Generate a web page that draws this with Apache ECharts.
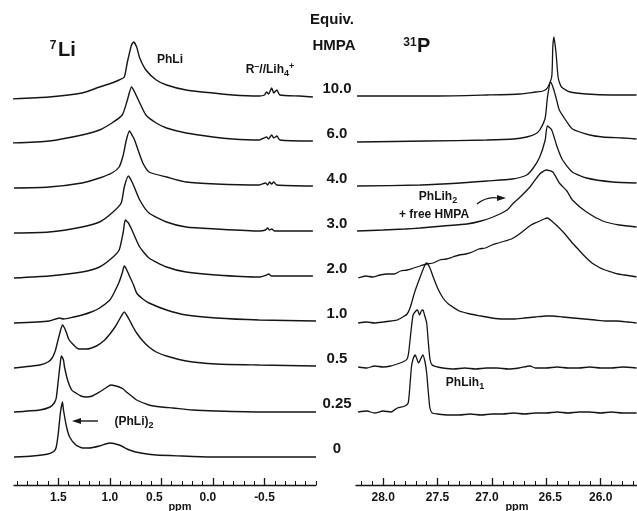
<!DOCTYPE html>
<html>
<head>
<meta charset="utf-8">
<script src="https://cdn.jsdelivr.net/npm/echarts@6/dist/echarts.min.js"></script>
<style>
html,body{margin:0;padding:0;background:#fff}
#c{width:637px;height:511px}
</style>
</head>
<body>
<div id="c"></div>
<script>
// Equivalents of HMPA added, bottom spectrum first
const hmpaEquiv = ['0', '0.25', '0.5', '1.0', '2.0', '3.0', '4.0', '6.0', '10.0'];

// 7Li spectra, [ppm, intensity above the spectrum's own baseline]
const li_0 = [[1.93,0],[1.75,1],[1.60,3],[1.54,6],[1.52,10],[1.50,24],[1.48,44],[1.46,55],[1.45,47],[1.42,30],[1.39,20],[1.33,12],[1.26,9],[1.20,9],[1.10,11],[1.00,14],[0.91,12],[0.81,7],[0.70,4],[0.55,2],[0.30,1],[0.00,0],[-0.50,0],[-1.00,0]];
const li_025 = [[1.93,0],[1.68,2],[1.58,5],[1.54,9],[1.52,14],[1.50,32],[1.48,50],[1.47,56],[1.45,52],[1.44,45],[1.41,32],[1.37,22],[1.33,19],[1.28,16],[1.23,15],[1.17,16],[1.10,20],[1.04,24],[0.99,27],[0.94,26],[0.91,25],[0.87,23],[0.84,20],[0.79,16],[0.74,12],[0.62,7],[0.50,5],[0.39,4],[0.20,2],[-0.03,1],[-0.50,0],[-1.00,0]];
const li_05 = [[1.93,-1],[1.68,2],[1.60,5],[1.56,9],[1.53,16],[1.51,24],[1.48,36],[1.46,42],[1.44,39],[1.42,34],[1.40,28],[1.37,24],[1.30,18],[1.23,18],[1.13,21],[1.05,27],[1.00,33],[0.95,40],[0.91,47],[0.86,55],[0.81,47],[0.78,41],[0.74,34],[0.68,26],[0.62,20],[0.55,15],[0.45,11],[0.26,6],[-0.03,3],[-0.45,2],[-1.00,1]];
const li_10 = [[1.93,-1],[1.59,1],[1.49,4],[1.45,3],[1.35,5],[1.27,7],[1.18,10],[1.10,14],[1.00,22],[0.96,29],[0.91,40],[0.88,49],[0.86,56],[0.84,53],[0.81,46],[0.77,37],[0.74,29],[0.68,23],[0.62,19],[0.45,12],[0.26,7],[-0.03,4],[-0.45,2],[-1.00,1]];
const li_20 = [[1.93,-1],[1.59,1],[1.27,5],[1.10,10],[0.98,19],[0.91,27],[0.87,45],[0.85,57],[0.82,54],[0.79,48],[0.71,30],[0.62,19],[0.45,10],[0.26,5],[-0.03,2],[-0.45,0],[-0.52,2],[-0.54,3],[-0.57,1],[-0.97,1]];
const li_30 = [[1.93,-1],[1.59,0],[1.27,5],[1.10,10],[0.98,19],[0.89,29],[0.86,45],[0.82,56],[0.78,49],[0.71,32],[0.62,19],[0.45,10],[0.26,5],[-0.03,3],[-0.45,1],[-0.51,2],[-0.53,4],[-0.55,2],[-0.57,3],[-0.60,1],[-0.97,1]];
const li_40 = [[1.93,-1],[1.59,0],[1.27,4],[1.10,9],[0.98,14],[0.91,20],[0.87,32],[0.84,47],[0.81,56],[0.78,51],[0.76,47],[0.68,24],[0.62,15],[0.45,10],[0.26,5],[-0.03,3],[-0.45,2],[-0.51,4],[-0.53,2],[-0.55,5],[-0.57,3],[-0.59,5],[-0.62,2],[-0.97,1]];
const li_60 = [[1.96,-1],[1.59,1],[1.27,7],[1.10,12],[0.98,19],[0.88,27],[0.83,42],[0.79,55],[0.76,50],[0.71,39],[0.65,27],[0.55,19],[0.45,14],[0.26,9],[0.00,5],[-0.19,3],[-0.45,2],[-0.52,5],[-0.54,3],[-0.57,7],[-0.59,4],[-0.62,6],[-0.65,2],[-0.97,1]];
const li_100 = [[1.96,-2],[1.59,0],[1.27,4],[1.10,10],[0.98,14],[0.91,17],[0.86,20],[0.83,35],[0.79,52],[0.77,55],[0.74,50],[0.71,39],[0.65,27],[0.55,17],[0.45,12],[0.26,7],[0.00,4],[-0.19,2],[-0.45,1],[-0.50,2],[-0.52,5],[-0.54,3],[-0.57,9],[-0.59,4],[-0.62,7],[-0.65,2],[-0.84,1],[-0.97,0]];

// 31P spectra (no phosphorus signal without HMPA)
const p_025 = [[28.23,0],[28.15,1],[28.08,-1],[28.00,1],[27.93,0],[27.87,4],[27.80,6],[27.77,9],[27.755,25],[27.74,45],[27.725,53],[27.705,57],[27.69,53],[27.675,49],[27.655,53],[27.635,57],[27.615,50],[27.60,39],[27.585,20],[27.57,4],[27.55,-1],[27.50,-2],[27.40,-3],[27.30,-3],[27.20,-2],[27.10,-3],[27.00,-2],[26.90,-2],[26.80,-1],[26.70,-2],[26.60,-1],[26.50,-1],[26.40,0],[26.30,-1],[26.20,0],[26.10,0],[26.00,-1],[25.90,0],[25.80,-1],[25.67,-1]];
const p_05 = [[28.23,0],[28.15,-1],[28.08,1],[28.00,0],[27.93,1],[27.87,3],[27.82,5],[27.78,8],[27.765,15],[27.745,35],[27.725,52],[27.70,56],[27.685,57],[27.665,52],[27.65,56],[27.635,57],[27.62,52],[27.60,44],[27.585,25],[27.57,8],[27.55,2],[27.50,0],[27.45,-1],[27.35,-2],[27.25,-1],[27.15,-2],[27.05,-1],[26.95,-1],[26.85,-2],[26.75,-1],[26.65,1],[26.60,-1],[26.50,-1],[26.40,0],[26.30,-1],[26.20,-1],[26.10,0],[26.00,-1],[25.90,-1],[25.80,0],[25.67,-1]];
const p_10 = [[28.23,-1],[28.15,0],[28.08,-1],[28.00,0],[27.93,1],[27.87,2],[27.82,5],[27.78,8],[27.75,15],[27.71,30],[27.66,45],[27.62,56],[27.60,59],[27.57,54],[27.54,45],[27.50,34],[27.45,24],[27.40,18],[27.36,15],[27.30,11],[27.20,8],[27.10,6],[27.00,4],[26.90,3],[26.80,3],[26.70,4],[26.60,5],[26.50,6],[26.44,6],[26.35,5],[26.25,4],[26.15,3],[26.05,2],[25.95,1],[25.85,1],[25.75,0],[25.67,-1]];
const p_20 = [[28.23,-1],[28.16,1],[28.10,0],[28.03,2],[27.96,3],[27.90,3],[27.84,6],[27.78,7],[27.72,9],[27.66,11],[27.60,13],[27.54,14],[27.48,17],[27.42,18],[27.36,20],[27.30,22],[27.24,23],[27.18,25],[27.12,28],[27.06,29],[27.00,32],[26.94,34],[26.88,36],[26.82,38],[26.76,42],[26.70,47],[26.64,52],[26.58,55],[26.52,58],[26.49,59],[26.44,55],[26.38,49],[26.32,42],[26.26,34],[26.20,27],[26.14,20],[26.08,14],[26.02,10],[25.96,7],[25.90,5],[25.84,3],[25.78,2],[25.72,1],[25.67,0]];
const p_30 = [[28.24,1],[28.00,2],[27.80,3],[27.66,4],[27.45,6],[27.23,8],[27.10,11],[26.99,15],[26.86,22],[26.81,28],[26.74,35],[26.65,45],[26.56,58],[26.50,62],[26.44,60],[26.38,49],[26.31,41],[26.26,32],[26.13,20],[25.98,11],[25.83,7],[25.67,5]];
const p_40 = [[28.24,1],[27.66,2],[27.29,4],[27.05,6],[26.81,8],[26.68,12],[26.62,19],[26.56,30],[26.51,47],[26.49,61],[26.45,57],[26.40,40],[26.35,27],[26.26,15],[26.13,9],[25.89,5],[25.67,4]];
const p_60 = [[28.24,0],[27.60,1],[27.05,2],[26.80,3],[26.68,5],[26.60,8],[26.56,12],[26.51,24],[26.49,44],[26.46,60],[26.43,52],[26.40,40],[26.38,32],[26.31,20],[26.26,13],[26.10,7],[25.98,5],[25.80,4],[25.67,3]];
const p_100 = [[28.24,1],[27.50,1],[27.05,2],[26.74,3],[26.60,5],[26.53,6],[26.49,9],[26.45,20],[26.44,50],[26.43,60],[26.41,44],[26.39,19],[26.36,10],[26.28,5],[26.13,3],[25.90,2],[25.67,2]];

const liSpectra = [li_0, li_025, li_05, li_10, li_20, li_30, li_40, li_60, li_100];
const pSpectra = [null, p_025, p_05, p_10, p_20, p_30, p_40, p_60, p_100];

// Axis tick labels (ppm)
const liTickLabels = [1.5, 1.0, 0.5, 0.0, -0.5];
const pTickLabels = [28.0, 27.5, 27.0, 26.5, 26.0];

// ---- layout ----
const STEP = 45;              // vertical spacing between stacked spectra
const INK = '#151515';
const FONT = '"Liberation Sans", Arial, Helvetica, sans-serif';

function tenths(lo, hi) {
  const out = [];
  for (let i = Math.round(lo * 10); i <= Math.round(hi * 10); i++) out.push(i / 10);
  return out;
}
const liMinorTicks = tenths(-1.0, 1.9);
const pMinorTicks = tenths(25.7, 28.2);

function fmt(v) {
  return Math.abs(v) < 1e-9 ? '0.0' : v.toFixed(1);
}
// a few labels sit slightly off their ticks to leave room for the unit
const labelShift = { '0.5': 'l7', '0.0': 'l5', '27.0': 'l5', '26.5': 'r4' };
const tickRich = {
  n: { fontFamily: FONT, fontSize: 12, fontWeight: 'bold', color: INK },
  l7: { fontFamily: FONT, fontSize: 12, fontWeight: 'bold', color: INK, padding: [0, 14, 0, 0] },
  l5: { fontFamily: FONT, fontSize: 12, fontWeight: 'bold', color: INK, padding: [0, 10, 0, 0] },
  r4: { fontFamily: FONT, fontSize: 12, fontWeight: 'bold', color: INK, padding: [0, 0, 0, 8] }
};
function tickFormatter(v) {
  const s = fmt(v);
  return '{' + (labelShift[s] || 'n') + '|' + s + '}';
}

function majorAxis(gridIndex, min, max, labels, namePad) {
  return {
    type: 'value', gridIndex, position: 'bottom', inverse: true, min, max,
    axisLine: { show: true, onZero: false, lineStyle: { color: INK, width: 1.3 } },
    axisTick: { show: true, inside: true, length: 7, customValues: labels, lineStyle: { color: INK, width: 1.3 } },
    axisLabel: { show: true, customValues: labels, formatter: tickFormatter, rich: tickRich, margin: 7 },
    splitLine: { show: false },
    name: 'ppm', nameLocation: 'middle', nameGap: 16, nameMoveOverlap: false,
    nameTextStyle: { fontFamily: FONT, fontSize: 11, fontWeight: 'bold', color: INK, padding: [0, 0, 0, namePad] }
  };
}
function minorAxis(gridIndex, min, max, ticks) {
  return {
    type: 'value', gridIndex, position: 'bottom', inverse: true, min, max,
    axisLine: { show: false, onZero: false },
    axisTick: { show: true, inside: true, length: 4, customValues: ticks, lineStyle: { color: INK, width: 1 } },
    axisLabel: { show: false },
    splitLine: { show: false }
  };
}

const series = [];
liSpectra.forEach((pts, k) => {
  series.push({
    type: 'line', xAxisIndex: 0, yAxisIndex: 0, name: '7Li ' + hmpaEquiv[k],
    data: pts.map(([ppm, v]) => [ppm, v + k * STEP]),
    showSymbol: false, smooth: 0.2, silent: true,
    lineStyle: { color: INK, width: 1.4 }
  });
});
pSpectra.forEach((pts, k) => {
  if (!pts) return;
  series.push({
    type: 'line', xAxisIndex: 2, yAxisIndex: 1, name: '31P ' + hmpaEquiv[k],
    data: pts.map(([ppm, v]) => [ppm, v + k * STEP]),
    showSymbol: false, smooth: 0.2, silent: true,
    lineStyle: { color: INK, width: 1.3 }
  });
});

const bold = (size) => 'bold ' + size + 'px ' + FONT;
const subRich = {
  a: { fontFamily: FONT, fontSize: 12, fontWeight: 'bold', fill: INK, lineHeight: 16 },
  b: { fontFamily: FONT, fontSize: 9, fontWeight: 'bold', fill: INK, lineHeight: 16, verticalAlign: 'bottom' },
  s: { fontFamily: FONT, fontSize: 9, fontWeight: 'bold', fill: INK, lineHeight: 16, verticalAlign: 'top' }
};
function label(x, y, text, font) {
  return {
    type: 'text', silent: true,
    style: { x, y, text, font, fill: INK, align: 'center', verticalAlign: 'middle' }
  };
}
function richLabel(x, y, text) {
  return {
    type: 'text', silent: true,
    style: { x, y, text, rich: subRich, fill: INK, align: 'center', verticalAlign: 'middle' }
  };
}

const graphic = [
  // nucleus titles
  label(53, 46, '7', bold(12)),
  { type: 'text', silent: true, style: { x: 58, y: 50, text: 'Li', font: bold(20), fill: INK, align: 'left', verticalAlign: 'middle' } },
  label(410, 43, '31', bold(12)),
  { type: 'text', silent: true, style: { x: 417, y: 46, text: 'P', font: bold(20), fill: INK, align: 'left', verticalAlign: 'middle' } },
  // column header
  label(332, 20, 'Equiv.', bold(15)),
  label(334, 46, 'HMPA', bold(15)),
  // peak annotations
  label(170, 60, 'PhLi', bold(12)),
  richLabel(270, 70, '{a|R}{s|–}{a|//Lih}{b|4}{s|+}'),
  richLabel(134, 422, '{a|(PhLi)}{b|2}'),
  richLabel(438, 197, '{a|PhLih}{b|2}'),
  label(434, 215, '+ free HMPA', bold(12)),
  richLabel(465, 383, '{a|PhLih}{b|1}'),
  // arrows
  { type: 'line', silent: true, shape: { x1: 98, y1: 421, x2: 80, y2: 421 }, style: { stroke: INK, lineWidth: 1.4 } },
  { type: 'polygon', silent: true, shape: { points: [[72, 421], [81, 418], [81, 424]] }, style: { fill: INK } },
  { type: 'bezierCurve', silent: true, shape: { x1: 477, y1: 204, cpx1: 487, cpy1: 196, x2: 498, y2: 198 }, style: { stroke: INK, lineWidth: 1.2, fill: null } },
  { type: 'polygon', silent: true, shape: { points: [[506, 198], [497, 195], [497, 201]] }, style: { fill: INK } }
];

const chart = echarts.init(document.getElementById('c'), null, { renderer: 'canvas' });
chart.setOption({
  animation: false,
  backgroundColor: '#ffffff',
  grid: [
    { left: 14, top: 0, width: 302, height: 485, containLabel: false, outerBoundsMode: 'none' },
    { left: 356, top: 0, width: 299, height: 485, containLabel: false, outerBoundsMode: 'none' }
  ],
  xAxis: [
    majorAxis(0, -1.0, 1.93, liTickLabels, 30),
    minorAxis(0, -1.0, 1.93, liMinorTicks),
    majorAxis(1, 25.5, 28.25, pTickLabels, 23),
    minorAxis(1, 25.5, 28.25, pMinorTicks)
  ],
  yAxis: [
    { type: 'value', gridIndex: 0, min: -28, max: 457, show: false },
    {
      type: 'value', gridIndex: 1, min: -28, max: 457, position: 'left',
      axisLine: { show: false }, axisTick: { show: false }, splitLine: { show: false },
      axisLabel: {
        show: true, customValues: hmpaEquiv.map((_, i) => i * STEP + 8), margin: 19, align: 'center',
        formatter: (v) => hmpaEquiv[Math.round((v - 8) / STEP)],
        fontFamily: FONT, fontSize: 15, fontWeight: 'bold', color: INK
      }
    }
  ],
  series,
  graphic
});
</script>
</body>
</html>
